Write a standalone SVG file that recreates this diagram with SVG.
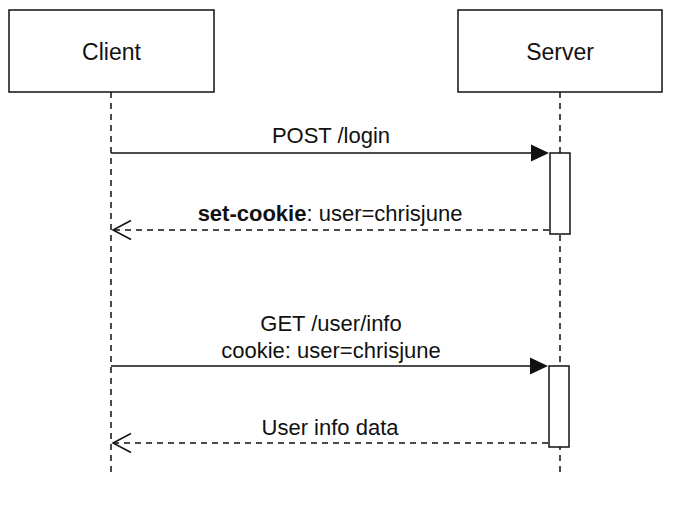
<svg xmlns="http://www.w3.org/2000/svg" width="678" height="506" viewBox="0 0 678 506">
<style>
text{font-family:"Liberation Sans",Arial,Helvetica,sans-serif;font-size:22px;fill:#111;text-anchor:middle}
.title{font-size:23px}
.box{fill:#fff;stroke:#111;stroke-width:1.5}
.life{stroke:#111;stroke-width:1.5;stroke-dasharray:6 5;fill:none}
.msg{stroke:#111;stroke-width:1.5;fill:none}
.ret{stroke:#111;stroke-width:1.5;fill:none;stroke-dasharray:6 5}
.open{stroke:#111;stroke-width:1.5;fill:none}
.act{fill:#fff;stroke:#111;stroke-width:1.5}
</style>
<rect width="678" height="506" fill="#fff"/>
<g id="client">
<line class="life" x1="111" y1="92" x2="111" y2="476"/>
<rect class="box" x="9" y="10" width="205" height="82"/>
<text class="title" x="111.5" y="60">Client</text>
</g>
<g id="server">
<line class="life" x1="560" y1="92" x2="560" y2="476"/>
<rect class="box" x="458" y="10" width="204" height="82"/>
<text class="title" x="560" y="60">Server</text>
</g>
<g id="activation1">
<rect class="act" x="550" y="153" width="20" height="81"/>
</g>
<g id="activation2">
<rect class="act" x="549" y="366" width="20" height="81"/>
</g>
<g id="connectors">
<line class="msg" x1="111" y1="153" x2="534" y2="153"/>
<polygon points="549,153 531,144.5 531,161.5" fill="#111"/>
<text x="331" y="143">POST /login</text>
<line class="ret" x1="549" y1="230" x2="113" y2="230"/>
<polyline class="open" points="131,220.5 113,230 131,239.5"/>
<text x="330" y="221"><tspan font-weight="bold">set-cookie</tspan>: user=chrisjune</text>
<line class="msg" x1="111" y1="366" x2="533" y2="366"/>
<polygon points="548,366 530,357.5 530,374.5" fill="#111"/>
<text x="331" y="331">GET /user/info</text>
<text x="331" y="358">cookie: user=chrisjune</text>
<line class="ret" x1="548" y1="443" x2="113" y2="443"/>
<polyline class="open" points="131,433.5 113,443 131,452.5"/>
<text x="330" y="435">User info data</text>
</g>
</svg>
